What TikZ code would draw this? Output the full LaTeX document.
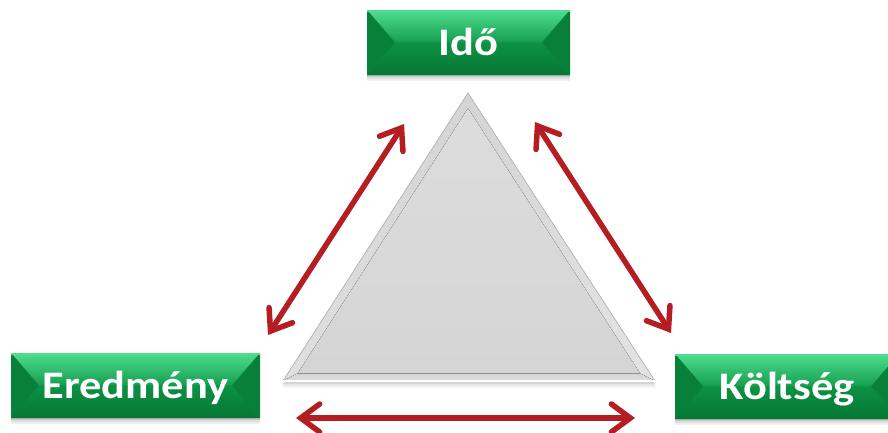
\documentclass[tikz,border=0pt]{standalone}
\usepackage{fontspec}
\setmainfont{Carlito}
\usetikzlibrary{arrows.meta,calc}
\definecolor{gmain}{RGB}{12,146,68}
\definecolor{glight}{RGB}{78,222,142}
\definecolor{gdark}{RGB}{6,118,52}
\definecolor{gside}{RGB}{8,128,58}
\definecolor{arr}{RGB}{180,30,34}
\definecolor{trimain}{RGB}{213,213,213}
\definecolor{trilight}{RGB}{228,228,228}
\definecolor{triedge}{RGB}{184,184,184}
\newfontfamily\boxfont[FakeStretch=1.14]{Carlito Bold}
\tikzset{
  gbox/.style={rectangle, inner sep=0pt, minimum height=65pt, text=white,
    font=\boxfont\fontsize{39}{39}\selectfont, text height=25pt, text depth=0pt,
    fill=gmain,
    preaction={fill=black, opacity=0.06, transform canvas={yshift=-6pt}},
    preaction={fill=black, opacity=0.08, transform canvas={yshift=-4pt}},
    preaction={fill=black, opacity=0.10, transform canvas={yshift=-2pt}},
    path picture={
      \fill[top color=glight, bottom color=gmain, middle color=gmain!85!glight]
        (path picture bounding box.north west) -- (path picture bounding box.north east)
        -- ([xshift=-28pt]path picture bounding box.east) -- ([xshift=28pt]path picture bounding box.west) -- cycle;
      \fill[top color=gmain, bottom color=gdark]
        (path picture bounding box.south west) -- (path picture bounding box.south east)
        -- ([xshift=-28pt]path picture bounding box.east) -- ([xshift=28pt]path picture bounding box.west) -- cycle;
      \fill[gside]
        (path picture bounding box.north west) -- ([xshift=28pt]path picture bounding box.west) -- (path picture bounding box.south west) -- cycle;
      \fill[gside]
        (path picture bounding box.north east) -- ([xshift=-28pt]path picture bounding box.east) -- (path picture bounding box.south east) -- cycle;
      \fill[glight] (path picture bounding box.north west) rectangle ([yshift=-2pt]path picture bounding box.north east);
    }},
  dbl/.style={draw=arr, line width=5.5pt, line cap=round,
    {Straight Barb[length=19pt, width=28pt, line cap=round]}-{Straight Barb[length=19pt, width=28pt, line cap=round]}}
}
\begin{document}
\begin{tikzpicture}[x=1pt, y=-1pt]
\useasboundingbox (0,0) rectangle (888,432);
% triangle shadow
\foreach \o/\a in {7/0.04,5/0.06,3/0.08}{
  \fill[black, opacity=\a] (468,93+\o) -- (283-1,381+\o) -- (655+1,381+\o) -- cycle;
}
% triangle
\coordinate (A) at (468,93);
\coordinate (B) at (283,381);
\coordinate (C) at (655,381);
\coordinate (G) at (468,285);
\fill[trimain] (A) -- (B) -- (C) -- cycle;
\fill[left color=trilight!70!trimain, right color=trimain] (A) -- (B) -- ($(G)!0.92!(B)$) -- ($(G)!0.92!(A)$) -- cycle;
\fill[left color=trimain, right color=trilight] (A) -- (C) -- ($(G)!0.92!(C)$) -- ($(G)!0.92!(A)$) -- cycle;
\fill[top color=trimain, bottom color=trilight!60!trimain] (B) -- (C) -- ($(G)!0.92!(C)$) -- ($(G)!0.92!(B)$) -- cycle;
\fill[top color=trilight!50!trimain, bottom color=trimain] ($(G)!0.92!(A)$) -- ($(G)!0.92!(B)$) -- ($(G)!0.92!(C)$) -- cycle;
\draw[triedge, line width=0.7pt] (B) -- (A) -- (C);
\draw[white, line width=1.2pt] (B) -- (C);
% boxes
\node[gbox, minimum width=203pt] (ido) at (468.5,42.5) {Idő};
\node[gbox, minimum width=249pt] (ered) at (135.5,385.5) {Eredmény};
\node[gbox, minimum width=224pt] (kolt) at (787,386.5) {Költség};
% arrow ends
\coordinate (l1) at (268,335);
\coordinate (l2) at (404,124);
\coordinate (r1) at (535,122);
\coordinate (r2) at (671,333);
\coordinate (b1) at (296,418);
\coordinate (b2) at (635,418);
\draw[dbl] (l1) -- (l2);
\draw[dbl] (r1) -- (r2);
\draw[dbl] (b1) -- (b2);
\end{tikzpicture}
\end{document}
